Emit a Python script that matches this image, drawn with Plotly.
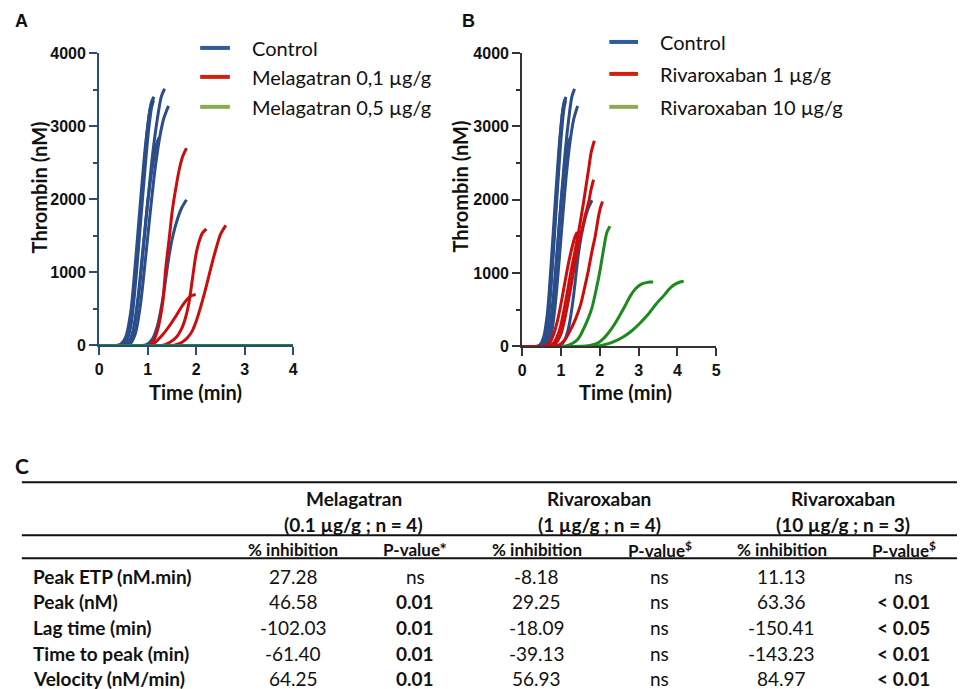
import plotly.graph_objects as go

W, H = 966, 689
TOP = 8          # the page shows the paper from y=8 ...
SPAN = 673       # ... over 673 px (689 minus the page margins)

# ---------------- DATA ----------------
# Control curves (same recordings shown in panels A and B): time (min), thrombin (nM)
ctrl_t = [
    [0, 0.35, 0.45, 0.55, 0.65, 0.75, 0.85, 0.95, 1.03, 1.08, 1.13],
    [0, 0.40, 0.50, 0.60, 0.70, 0.80, 0.90, 0.98, 1.05, 1.12],
    [0, 0.45, 0.55, 0.65, 0.75, 0.85, 0.95, 1.02, 1.08, 1.12],
    [0, 0.50, 0.60, 0.70, 0.80, 0.90, 1.00, 1.10, 1.18, 1.24],
    [0, 0.50, 0.60, 0.70, 0.80, 0.90, 1.00, 1.10, 1.20, 1.28, 1.35],
    [0, 0.55, 0.65, 0.75, 0.85, 0.95, 1.05, 1.15, 1.25, 1.33, 1.43],
    [0, 0.90, 1.00, 1.10, 1.20, 1.31, 1.44, 1.52, 1.61, 1.70, 1.80],
]
ctrl_v = [
    [0, 0, 20, 120, 450, 1150, 1950, 2700, 3150, 3330, 3400],
    [0, 0, 25, 160, 600, 1350, 2200, 2850, 3230, 3380],
    [0, 0, 40, 250, 850, 1650, 2450, 2950, 3250, 3350],
    [0, 0, 30, 200, 650, 1300, 1950, 2450, 2750, 2850],
    [0, 0, 30, 180, 600, 1250, 1950, 2600, 3100, 3400, 3510],
    [0, 0, 30, 170, 550, 1150, 1800, 2400, 2850, 3100, 3276],
    [0, 0, 20, 90, 264, 628, 1220, 1500, 1720, 1880, 1993],
]

# Melagatran 0,1 ug/g
mel1_t = [
    [0, 1.00, 1.10, 1.20, 1.31, 1.37, 1.45, 1.51, 1.58, 1.65, 1.72, 1.80],
    [0, 1.30, 1.45, 1.60, 1.70, 1.78, 1.85, 1.92, 2.00, 2.06, 2.13, 2.21],
    [0, 1.05, 1.15, 1.30, 1.45, 1.58, 1.71, 1.82, 1.90, 1.99],
    [0, 1.50, 1.60, 1.71, 1.82, 1.92, 2.00, 2.08, 2.16, 2.25, 2.33, 2.42, 2.50, 2.61],
]
mel1_v = [
    [0, 0, 40, 200, 587, 1037, 1500, 1856, 2150, 2403, 2580, 2698],
    [0, 0, 40, 120, 230, 380, 580, 900, 1260, 1420, 1540, 1593],
    [0, 0, 40, 140, 270, 400, 540, 635, 680, 696],
    [0, 0, 15, 45, 105, 200, 330, 500, 690, 920, 1133, 1350, 1520, 1643],
]

# Melagatran 0,5 ug/g (no thrombin generation)
mel5_t = [[0, 4]]
mel5_v = [[0, 0]]

# Rivaroxaban 1 ug/g
riv1_t = [
    [0, 0.55, 0.70, 0.80, 0.90, 1.00, 1.10, 1.20, 1.30, 1.36, 1.42],
    [0, 0.65, 0.80, 0.95, 1.05, 1.15, 1.25, 1.35, 1.45, 1.58, 1.71, 1.78, 1.86],
    [0, 0.70, 0.85, 1.00, 1.10, 1.20, 1.30, 1.42, 1.54, 1.63, 1.71, 1.78, 1.84],
    [0, 0.80, 0.95, 1.10, 1.25, 1.38, 1.50, 1.60, 1.71, 1.80, 1.88, 1.97, 2.02, 2.07],
]
riv1_v = [
    [0, 0, 40, 150, 330, 580, 870, 1150, 1380, 1490, 1560],
    [0, 0, 40, 200, 420, 700, 1000, 1270, 1550, 1960, 2408, 2650, 2803],
    [0, 0, 30, 170, 380, 650, 950, 1300, 1590, 1800, 1960, 2150, 2272],
    [0, 0, 20, 90, 230, 380, 560, 780, 1048, 1300, 1500, 1780, 1900, 1977],
]

# Rivaroxaban 10 ug/g
riv10_t = [
    [1.0, 1.20, 1.40, 1.50, 1.60, 1.70, 1.80, 1.90, 2.00, 2.10, 2.18, 2.26],
    [1.0, 1.50, 1.75, 1.96, 2.10, 2.20, 2.30, 2.40, 2.50, 2.60, 2.70, 2.80, 2.90, 3.00, 3.10, 3.20, 3.30, 3.37],
    [1.0, 1.80, 2.00, 2.20, 2.39, 2.60, 2.81, 3.02, 3.24, 3.45, 3.67, 3.80, 3.92, 4.05, 4.16],
]
riv10_v = [
    [0, 20, 80, 150, 260, 380, 530, 760, 1020, 1330, 1550, 1637],
    [0, 3, 15, 50, 110, 170, 240, 320, 410, 503, 605, 700, 775, 825, 855, 870, 878, 880],
    [0, 3, 10, 35, 72, 130, 208, 310, 435, 580, 707, 790, 843, 875, 888],
]

legend_a = ["Control", "Melagatran 0,1 µg/g", "Melagatran 0,5 µg/g"]
legend_b = ["Control", "Rivaroxaban 1 µg/g", "Rivaroxaban 10 µg/g"]

y_ticks = [0, 1000, 2000, 3000, 4000]
x_ticks_a = [0, 1, 2, 3, 4]
x_ticks_b = [0, 1, 2, 3, 4, 5]

# Table C
row_labels = ["Peak ETP (nM.min)", "Peak (nM)", "Lag time (min)", "Time to peak (min)", "Velocity (nM/min)"]
group_names = ["Melagatran", "Rivaroxaban", "Rivaroxaban"]
group_doses = ["(0.1 µg/g ; n = 4)", "(1 µg/g ; n = 4)", "(10 µg/g ; n = 3)"]
sub_headers = ["% inhibition", "P-value*", "% inhibition", "P-value<sup>$</sup>", "% inhibition", "P-value<sup>$</sup>"]
mel_inh = [27.28, 46.58, -102.03, -61.40, 64.25]
mel_p = ["ns", "0.01", "0.01", "0.01", "0.01"]
riv1_inh = [-8.18, 29.25, -18.09, -39.13, 56.93]
riv1_p = ["ns", "ns", "ns", "ns", "ns"]
riv10_inh = [11.13, 63.36, -150.41, -143.23, 84.97]
riv10_p = ["ns", "< 0.01", "< 0.05", "< 0.01", "< 0.01"]

# ---------------- STYLE ----------------
BLUE, RED, GREEN = "#2b4d8a", "#cc0d0d", "#1d8a1d"
LBLUE, LRED, LGREEN = "#2f5d9c", "#d2200f", "#8aab50"
TXT = "#111111"
BODY = "Lato, 'Open Sans', sans-serif"
TICKF = "'Liberation Sans', Arial, sans-serif"


def px(x):
    return x / W


def py(y):
    return 1 - (y - TOP) / SPAN


fig = go.Figure()


def add_group(ts, vs, color, xa, ya):
    for t, v in zip(ts, vs):
        fig.add_trace(go.Scatter(x=t, y=v, mode="lines", xaxis=xa, yaxis=ya,
                                 line=dict(color=color, width=3, shape="spline", smoothing=0.8),
                                 showlegend=False, hoverinfo="skip"))


add_group(ctrl_t, ctrl_v, BLUE, "x", "y")
add_group(mel1_t, mel1_v, RED, "x", "y")
add_group(mel5_t, mel5_v, GREEN, "x", "y")
add_group(ctrl_t, ctrl_v, BLUE, "x2", "y2")
add_group(riv1_t, riv1_v, RED, "x2", "y2")
add_group(riv10_t, riv10_v, GREEN, "x2", "y2")


def xaxis(dom, rng, ticks, col):
    return dict(domain=dom, range=rng, tickvals=ticks, showline=True, linewidth=2, linecolor=col,
                ticks="outside", ticklen=8, tickwidth=2, tickcolor=col, showgrid=False, zeroline=False,
                tickfont=dict(family=TICKF, size=16, color=TXT, weight=700), fixedrange=True)


def yaxis(dom, anchor, col):
    return dict(domain=dom, range=[0, 4000], tickvals=y_ticks, anchor=anchor, showline=True, linewidth=2,
                linecolor=col, ticks="outside", ticklen=8, tickwidth=2, tickcolor=col, showgrid=False,
                zeroline=False, tickfont=dict(family=TICKF, size=16, color=TXT, weight=700),
                minor=dict(ticks="outside", ticklen=4, tickwidth=2, tickcolor=col, dtick=500, tick0=0),
                fixedrange=True)


ACOL, BCOL = "#2a4a82", "#333333"
fig.update_layout(
    width=W, height=H, margin=dict(l=0, r=0, t=0, b=0), autosize=False,
    paper_bgcolor="white", plot_bgcolor="white", showlegend=False,
    xaxis=dict(xaxis([px(96), px(292)], [0, 4], x_ticks_a, ACOL), anchor="y"),
    yaxis=yaxis([py(346), py(53)], "x", ACOL),
    xaxis2=dict(xaxis([px(523), px(719)], [0, 5], x_ticks_b, BCOL), anchor="y2"),
    yaxis2=yaxis([py(347), py(53)], "x2", BCOL),
)

ann = []
shapes = []


def text(x, y, s, size, bold=False, anchor="center", family=BODY, angle=0):
    ann.append(dict(x=px(x), y=py(y), xref="paper", yref="paper", text=s, showarrow=False,
                    xanchor=anchor, yanchor="middle", textangle=angle,
                    font=dict(family=family, size=size, color=TXT, weight=700 if bold else 400)))


# panel letters
text(18, 21, "A", 18, True, family=TICKF)
text(469, 21, "B", 18, True, family=TICKF)
text(18, 466, "C", 21, True)

# axis titles
text(35, 188, "Thrombin (nM)", 20, True, angle=-90)
text(460, 187, "Thrombin (nM)", 20, True, angle=-90)
text(193, 393, "Time (min)", 20, True)
text(627, 393, "Time (min)", 20, True)

# legends
for i, (lab, c) in enumerate(zip(legend_a, [LBLUE, LRED, LGREEN])):
    yy = [48, 77, 107][i]
    shapes.append(dict(type="line", xref="paper", yref="paper", x0=px(198), x1=px(228), y0=py(yy), y1=py(yy),
                       line=dict(color=c, width=4)))
    text(248, yy, lab, 20, anchor="left")
for i, (lab, c) in enumerate(zip(legend_b, [LBLUE, LRED, LGREEN])):
    yy = [42, 74, 107][i]
    shapes.append(dict(type="line", xref="paper", yref="paper", x0=px(611), x1=px(640), y0=py(yy), y1=py(yy),
                       line=dict(color=c, width=4)))
    text(660, yy, lab, 20, anchor="left")

# table rules
for yy in [483, 536, 559]:
    shapes.append(dict(type="line", xref="paper", yref="paper", x0=px(18), x1=px(962), y0=py(yy), y1=py(yy),
                       line=dict(color="#111111", width=2)))

group_cx = [353, 601, 847]
col_cx = [292, 415, 538, 662, 785, 908]
for cx, g, d in zip(group_cx, group_names, group_doses):
    text(cx, 499, g, 19, True)
    text(cx, 525, d, 19, True)
for cx, s in zip(col_cx, sub_headers):
    text(cx, 550, s, 17, True)

row_y = [577, 602, 628, 654, 679]
cols = [mel_inh, mel_p, riv1_inh, riv1_p, riv10_inh, riv10_p]
for r, (yy, lab) in enumerate(zip(row_y, row_labels)):
    text(27, yy, lab, 19, True, anchor="left")
    for cx, col in zip(col_cx, cols):
        val = col[r]
        if isinstance(val, float):
            text(cx, yy, f"{val:.2f}", 19)
        else:
            text(cx, yy, val, 19, bold=(val != "ns"))

fig.update_layout(annotations=ann, shapes=shapes)
fig.write_html("out.html")
